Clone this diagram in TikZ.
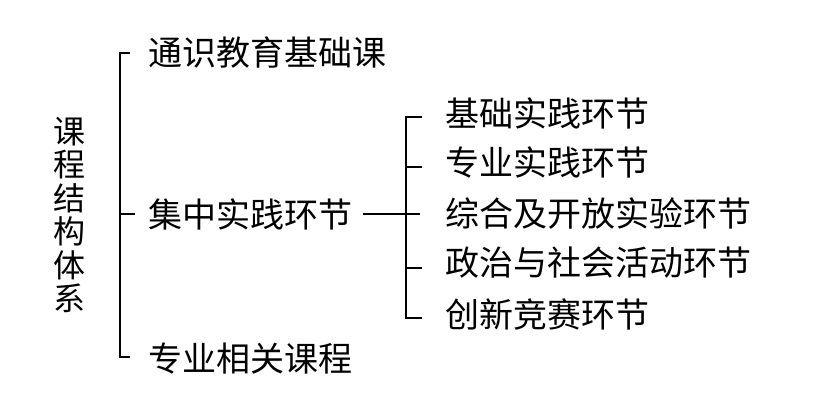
\documentclass[tikz,border=0pt]{standalone}
\usepackage{fontspec}
\setmainfont{Noto Sans CJK SC}
\usetikzlibrary{positioning}

\begin{document}
\begin{tikzpicture}[x=1pt,y=-1pt]
   \tikzstyle{item}=[anchor=west,inner sep=0pt,font=\fontsize{34}{36}\selectfont]
   \tikzstyle{brace}=[line width=2pt]

   \useasboundingbox [fill=white] (0,0) rectangle (835,401);
   \node (root) [inner sep=0pt,align=center,font=\fontsize{32}{33.5}\selectfont] at (69,215) {课\\程\\结\\构\\体\\系};
   \node (c1) [item] at (148,53) {通识教育基础课};
   \node (c2) [item] at (148,214) {集中实践环节};
   \node (c3) [item] at (148,359) {专业相关课程};
   \node (s1) [item] at (445,113) {基础实践环节};
   \node (s2) [item] at (445,162) {专业实践环节};
   \node (s3) [item] at (445,214) {综合及开放实验环节};
   \node (s4) [item] at (445,263) {政治与社会活动环节};
   \node (s5) [item] at (445,314) {创新竞赛环节};
   % left bracket
   \draw [brace] ([xshift=-18pt]c1.west) -- ([xshift=-28pt]c1.west) -- ([xshift=-28pt,yshift=2pt]c3.west) -- ([xshift=-18pt,yshift=2pt]c3.west) ;
   \draw [brace] ([xshift=-28pt]c2.west) -- ([xshift=-13pt]c2.west) ;
   \draw [brace] ([xshift=11pt]c2.east) -- ([xshift=-25pt]s3.west) ;
   % right bracket
   \draw [brace] ([xshift=-23pt,yshift=-4pt]s1.west) -- ([xshift=-39pt,yshift=-4pt]s1.west) -- ([xshift=-39pt,yshift=-4pt]s5.west) -- ([xshift=-23pt,yshift=-4pt]s5.west) ;
   \foreach \n in {s2,s4}
      \draw [brace] ([xshift=-39pt,yshift=-5pt]\n.west) -- ([xshift=-23pt,yshift=-5pt]\n.west) ;
\end{tikzpicture}
\end{document}
